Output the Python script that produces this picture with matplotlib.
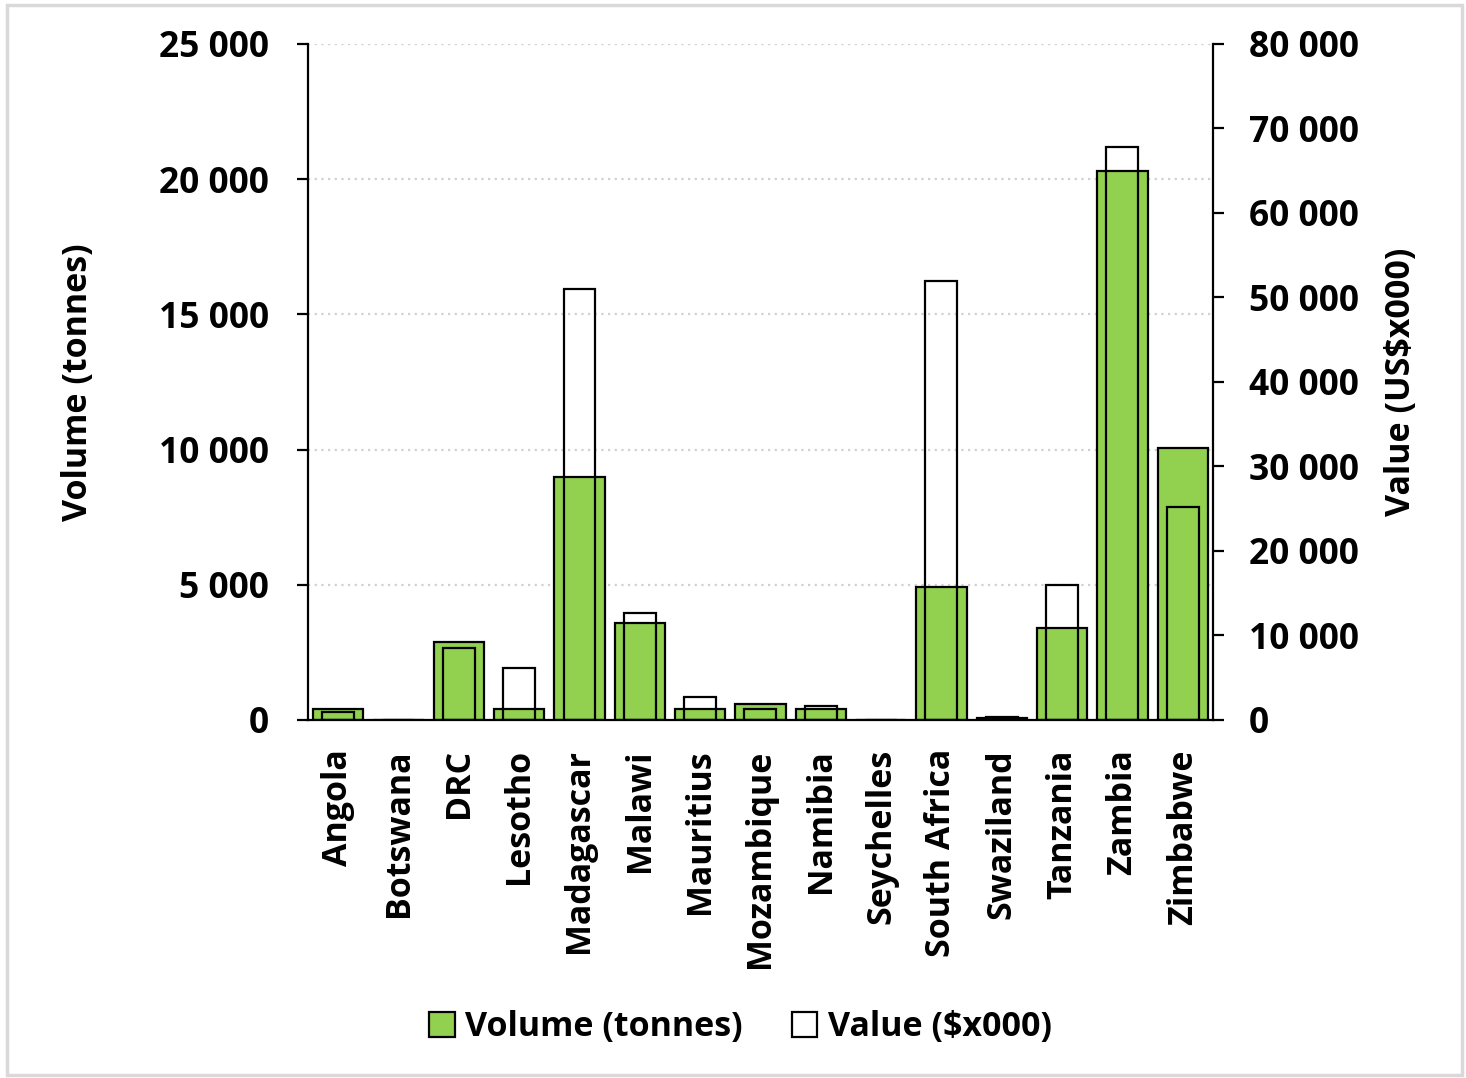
import matplotlib
matplotlib.use("Agg")
import matplotlib.pyplot as plt
from matplotlib.patches import Patch, Rectangle
from matplotlib.ticker import FuncFormatter, MultipleLocator

plt.rcParams['font.family'] = ['Open Sans', 'DejaVu Sans']
plt.rcParams['font.weight'] = 'bold'

# Exports by country
countries = ['Angola', 'Botswana', 'DRC', 'Lesotho', 'Madagascar', 'Malawi',
             'Mauritius', 'Mozambique', 'Namibia', 'Seychelles', 'South Africa',
             'Swaziland', 'Tanzania', 'Zambia', 'Zimbabwe']
volume_t = [400, 0, 2900, 400, 9000, 3600, 400, 600, 400, 0, 4900,
            90, 3400, 20300, 10050]
value_k = [1000, 0, 8500, 6100, 51000, 12700, 2700, 1300, 1650, 0, 52000,
           300, 16000, 67800, 25200]

green = '#92D050'
fs_tick = 25.5
fs_text = 24.5


def thousands(v, pos):
    return f'{int(v):,}'.replace(',', ' ')


fig = plt.figure(figsize=(14.66, 10.78), dpi=100)
fig.patches.append(Rectangle((0.005, 0.003), 0.992, 0.992, transform=fig.transFigure,
                             fill=False, edgecolor='#D9D9D9', linewidth=2.5))

ax = fig.add_axes([0.2101, 0.3321, 0.6173, 0.6271])
x = range(len(countries))
ax.bar(x, volume_t, width=0.83, color=green, edgecolor='black', linewidth=1.6, zorder=2)
ax.set_xlim(-0.5, len(countries) - 0.5)
ax.set_ylim(0, 25000)
ax.yaxis.set_major_locator(MultipleLocator(5000))
ax.yaxis.set_major_formatter(FuncFormatter(thousands))
ax.grid(axis='y', color='#D0D0D0', linestyle=(0, (1, 2)), linewidth=1.6, zorder=0)
ax.set_axisbelow(True)
ax.set_xticks(list(x))
ax.set_xticklabels(countries, rotation=90, fontsize=fs_text, fontweight='bold')
ax.tick_params(axis='x', length=0, pad=21)
ax.tick_params(axis='y', direction='out', length=8, width=1.6, labelsize=fs_tick, pad=20)
ax.set_ylabel('Volume (tonnes)', fontsize=fs_text, fontweight='bold', labelpad=46)
for s in ['top', 'right']:
    ax.spines[s].set_visible(False)
for s in ['left', 'bottom']:
    ax.spines[s].set_linewidth(1.6)

# Value series on the secondary axis, outlined only
ax2 = ax.twinx()
ax2.bar(x, value_k, width=0.53, facecolor='none', edgecolor='black', linewidth=1.6, zorder=3)
ax2.set_ylim(0, 80000)
ax2.yaxis.set_major_locator(MultipleLocator(10000))
ax2.yaxis.set_major_formatter(FuncFormatter(thousands))
ax2.tick_params(axis='y', direction='out', length=8, width=1.6, labelsize=fs_tick, pad=18)
ax2.set_ylabel('Value (US$x000)', fontsize=fs_text, fontweight='bold', labelpad=18)
for s in ['top', 'left', 'bottom']:
    ax2.spines[s].set_visible(False)
ax2.spines['right'].set_linewidth(1.6)

handles = [Patch(facecolor=green, edgecolor='black', linewidth=1.6, label='Volume (tonnes)'),
           Patch(facecolor='white', edgecolor='black', linewidth=1.6, label='Value ($x000)')]
fig.legend(handles=handles, loc='center', bbox_to_anchor=(0.505, 0.047), ncol=2,
           frameon=False, prop={'size': fs_text, 'weight': 'bold'},
           handlelength=0.75, handleheight=0.75, handletextpad=0.3, columnspacing=1.45)

fig.savefig('out.png', dpi=100)
